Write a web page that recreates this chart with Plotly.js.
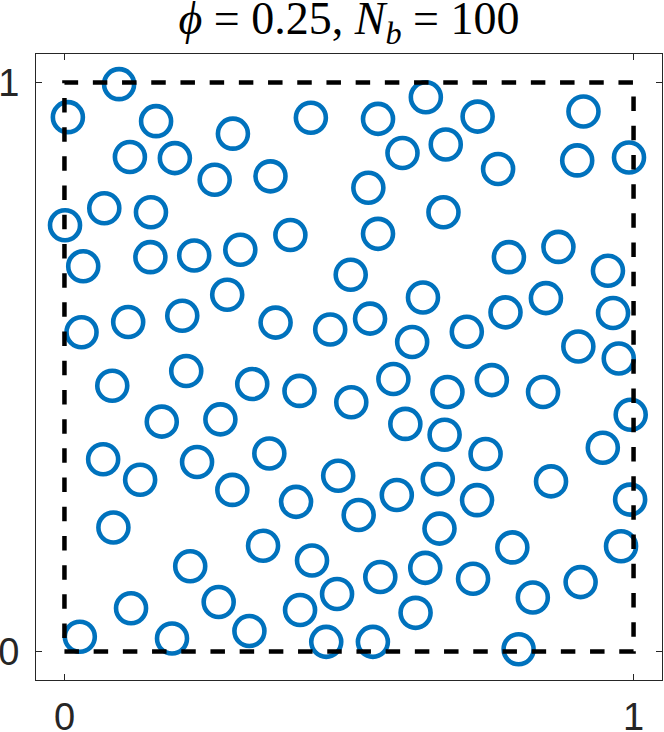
<!DOCTYPE html>
<html>
<head>
<meta charset="utf-8">
<script src="https://cdn.plot.ly/plotly-3.0.1.min.js"></script>
<style>html,body{margin:0;padding:0;background:#fff;}#chart{width:664px;height:732px;}</style>
</head>
<body>
<div id="chart"></div>
<script>
// Particle centres (x, y)
const bubbleX = [
  0.096,0.006,0.161,0.296,0.433,0.115,0.194,0.264,0.362,0.070,0.152,0.001,0.397,0.033,0.151,0.228,0.309,0.286,0.030,0.112,0.207,0.371,0.467,
  0.635,0.551,0.726,0.912,0.594,0.670,0.762,0.901,0.992,0.534,0.666,0.551,0.781,0.868,0.955,0.503,0.630,0.846,0.775,0.964,0.537,0.611,0.707,0.903,0.974,
  0.214,0.084,0.330,0.413,0.171,0.274,0.068,0.133,0.233,0.360,0.295,0.407,0.481,0.086,0.349,0.435,0.221,0.117,0.271,0.479,0.414,0.325,0.027,0.189,0.460,
  0.578,0.751,0.673,0.841,0.504,0.995,0.599,0.668,0.740,0.946,0.656,0.584,0.725,0.855,0.994,0.517,0.659,0.787,0.978,0.555,0.634,0.718,0.823,0.907,0.617,0.542,0.798
];
const bubbleY = [
  0.997,0.939,0.932,0.910,0.938,0.869,0.867,0.829,0.835,0.779,0.772,0.749,0.732,0.677,0.693,0.696,0.706,0.627,0.561,0.579,0.590,0.578,0.566,
  0.974,0.936,0.940,0.949,0.876,0.891,0.848,0.863,0.868,0.815,0.772,0.734,0.693,0.711,0.669,0.662,0.622,0.621,0.596,0.595,0.585,0.544,0.562,0.536,0.515,
  0.493,0.467,0.470,0.458,0.404,0.408,0.338,0.302,0.333,0.348,0.284,0.263,0.309,0.218,0.186,0.160,0.150,0.076,0.087,0.101,0.073,0.036,0.026,0.023,0.017,
  0.479,0.477,0.456,0.456,0.438,0.416,0.400,0.381,0.347,0.358,0.303,0.275,0.266,0.299,0.267,0.240,0.216,0.183,0.185,0.131,0.147,0.128,0.095,0.122,0.068,0.017,0.004
];
// Domain boundary (unit square)
const boxX = [0, 1, 1, 0, 0];
const boxY = [0, 0, 1, 1, 0];
const tickVals = [0, 1];
const tickText = ['0', '1'];

const traces = [
  {
    type: 'scatter', mode: 'markers', x: bubbleX, y: bubbleY,
    marker: {symbol: 'circle-open', size: 30, color: '#0072BD',
             line: {width: 4.6, color: '#0072BD'}},
    hoverinfo: 'skip', cliponaxis: false
  },
  {
    type: 'scatter', mode: 'lines', x: boxX, y: boxY,
    line: {color: '#000000', width: 4.5, dash: '14.5px,14.7px'},
    hoverinfo: 'skip'
  }
];

const axisCommon = {
  range: [-0.05, 1.05], tickvals: tickVals, ticktext: tickText,
  showgrid: false, zeroline: false, showline: true, mirror: 'ticks',
  linecolor: '#262626', linewidth: 1, ticks: 'inside', ticklen: 6,
  tickcolor: '#262626', tickwidth: 1,
  tickfont: {family: 'Liberation Sans, Arial, sans-serif', size: 38, color: '#262626'}
};

const layout = {
  width: 664, height: 732,
  margin: {l: 36, r: 2, t: 54, b: 52},
  paper_bgcolor: '#ffffff', plot_bgcolor: '#ffffff',
  showlegend: false,
  title: {
    text: '<i>ϕ</i> = 0.25, <i>N</i><sub><i>b</i></sub> = 100',
    font: {family: 'Liberation Serif, DejaVu Serif, serif', size: 46, color: '#000000'},
    x: 349 / 664, xanchor: 'center', xref: 'container',
    y: 1 - 18 / 732, yanchor: 'middle', yref: 'container'
  },
  xaxis: Object.assign({}, axisCommon, {ticklabelstandoff: 3}),
  yaxis: Object.assign({}, axisCommon, {ticklabelstandoff: 8})
};

Plotly.newPlot('chart', traces, layout, {displayModeBar: false, staticPlot: true});
</script>
</body>
</html>
